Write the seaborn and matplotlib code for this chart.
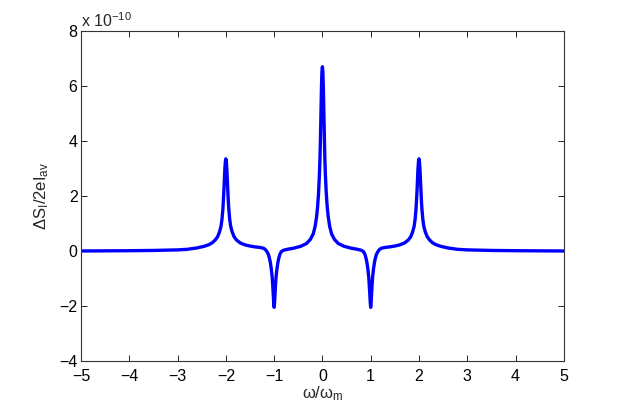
import matplotlib
matplotlib.use("Agg")
import matplotlib.pyplot as plt
import seaborn as sns
import pandas as pd

# omega / omega_m
omega = [-5.00, -4.50, -4.00, -3.50, -3.00, -2.80, -2.60, -2.45, -2.35, -2.28,
         -2.22, -2.17, -2.13, -2.10, -2.08, -2.06, -2.05, -2.04, -2.03, -2.02,
         -2.01, -2.00, -1.99, -1.98, -1.97, -1.96, -1.95, -1.94, -1.92, -1.90,
         -1.87, -1.83, -1.78, -1.70, -1.60, -1.50, -1.40, -1.30, -1.22, -1.18,
         -1.15, -1.12, -1.10, -1.08, -1.06, -1.05, -1.04, -1.03, -1.02, -1.01,
         -1.00, -0.99, -0.98, -0.97, -0.96, -0.95, -0.94, -0.92, -0.90, -0.88,
         -0.85, -0.80, -0.70, -0.60, -0.45, -0.33, -0.25, -0.19, -0.15, -0.12,
         -0.10, -0.08, -0.07, -0.06, -0.05, -0.04, -0.03, -0.02, -0.01,
         0.00,
         0.01, 0.02, 0.03, 0.04, 0.05, 0.06, 0.07, 0.08, 0.10, 0.12,
         0.15, 0.19, 0.25, 0.33, 0.45, 0.60, 0.70, 0.80, 0.85, 0.88,
         0.90, 0.92, 0.94, 0.95, 0.96, 0.97, 0.98, 0.99, 1.00, 1.01,
         1.02, 1.03, 1.04, 1.05, 1.06, 1.08, 1.10, 1.12, 1.15, 1.18,
         1.22, 1.30, 1.40, 1.50, 1.60, 1.70, 1.78, 1.83, 1.87, 1.90,
         1.92, 1.94, 1.95, 1.96, 1.97, 1.98, 1.99, 2.00, 2.01, 2.02,
         2.03, 2.04, 2.05, 2.06, 2.08, 2.10, 2.13, 2.17, 2.22, 2.28,
         2.35, 2.45, 2.60, 2.80, 3.00, 3.50, 4.00, 4.50, 5.00]

# Delta S_I / 2 e I_av, in units of 1e-10
delta_s = [0.00, 0.005, 0.01, 0.02, 0.04, 0.06, 0.11, 0.17, 0.23, 0.30,
           0.40, 0.52, 0.70, 0.90, 1.15, 1.55, 1.85, 2.20, 2.60, 3.00,
           3.25, 3.35, 3.25, 3.00, 2.60, 2.20, 1.85, 1.55, 1.15, 0.90,
           0.70, 0.52, 0.40, 0.29, 0.22, 0.18, 0.15, 0.13, 0.10, 0.05,
           -0.02, -0.12, -0.24, -0.40, -0.63, -0.78, -0.95, -1.20, -1.50, -1.85,
           -2.05, -1.85, -1.50, -1.20, -0.95, -0.78, -0.63, -0.40, -0.24, -0.12,
           -0.02, 0.03, 0.07, 0.10, 0.17, 0.27, 0.42, 0.62, 0.90, 1.25,
           1.60, 2.10, 2.45, 2.85, 3.40, 4.10, 5.00, 5.90, 6.50,
           6.70,
           6.50, 5.90, 5.00, 4.10, 3.40, 2.85, 2.45, 2.10, 1.60, 1.25,
           0.90, 0.62, 0.42, 0.27, 0.17, 0.10, 0.07, 0.03, -0.02, -0.12,
           -0.24, -0.40, -0.63, -0.78, -0.95, -1.20, -1.50, -1.85, -2.05, -1.85,
           -1.50, -1.20, -0.95, -0.78, -0.63, -0.40, -0.24, -0.12, -0.02, 0.05,
           0.10, 0.13, 0.15, 0.18, 0.22, 0.29, 0.40, 0.52, 0.70, 0.90,
           1.15, 1.55, 1.85, 2.20, 2.60, 3.00, 3.25, 3.35, 3.25, 3.00,
           2.60, 2.20, 1.85, 1.55, 1.15, 0.90, 0.70, 0.52, 0.40, 0.30,
           0.23, 0.17, 0.11, 0.06, 0.04, 0.02, 0.01, 0.005, 0.00]

x_ticks = [-5, -4, -3, -2, -1, 0, 1, 2, 3, 4, 5]
y_ticks = [-4, -2, 0, 2, 4, 6, 8]
x_label = "ω/ω$_\\mathrm{m}$"
y_label = "ΔS$_\\mathrm{I}$/2eI$_\\mathrm{av}$"
exp_label = "x 10$^{\\mathrm{-10}}$"

sns.set_style("ticks")
plt.rcParams["font.family"] = ["Liberation Sans", "DejaVu Sans"]
plt.rcParams["mathtext.fontset"] = "custom"
plt.rcParams["mathtext.rm"] = "Liberation Sans"
plt.rcParams["mathtext.it"] = "Liberation Sans:italic"
plt.rcParams["axes.unicode_minus"] = True

df = pd.DataFrame({"omega": omega, "dS": delta_s})

fig = plt.figure(figsize=(6.23, 4.07), dpi=100)
ax = fig.add_axes([0.130, 0.113, 0.775, 0.811])
sns.lineplot(data=df, x="omega", y="dS", ax=ax, color=(0, 0, 1),
             linewidth=2.4, estimator=None, sort=False)

ax.set_xlim(-5, 5)
ax.set_ylim(-4, 8)
ax.set_xticks(x_ticks)
ax.set_yticks(y_ticks)
ax.set_xticklabels([str(v).replace("-", "\u2212") for v in x_ticks])
ax.set_yticklabels([str(v).replace("-", "\u2212") for v in y_ticks])
ax.tick_params(direction="in", length=4.5, width=0.6, top=True, right=True,
               labelsize=11.5, colors="black")
ax.tick_params(axis="x", pad=6)
ax.tick_params(axis="y", pad=2.5)
for s in ax.spines.values():
    s.set_visible(True)
    s.set_linewidth(0.8)
    s.set_color("#333333")

ax.set_xlabel(x_label, fontsize=12, labelpad=0)
ax.set_ylabel(y_label, fontsize=12, labelpad=6)
ax.text(0.0, 1.012, exp_label, transform=ax.transAxes, fontsize=11.5,
        ha="left", va="baseline")

fig.savefig("out.png", dpi=100)
